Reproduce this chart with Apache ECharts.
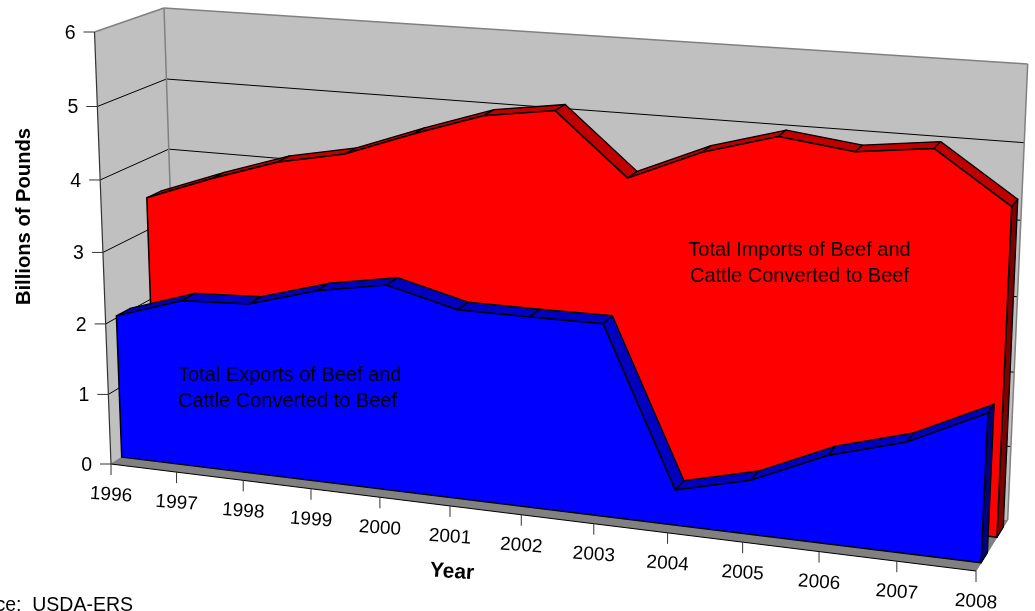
<!DOCTYPE html>
<html><head><meta charset="utf-8">
<style>html,body{margin:0;padding:0;background:#fff}#c{width:1035px;height:611px}</style>
<script src="https://cdn.jsdelivr.net/npm/echarts@6/dist/echarts.min.js"></script>
</head><body><div id="c"></div>
<script>
const years = ['1996','1997','1998','1999','2000','2001','2002','2003','2004','2005','2006','2007','2008'];
const valueTicks = [0,1,2,3,4,5,6];
const totalImports = [3.46,3.81,4.12,4.31,4.66,4.98,5.12,4.30,4.72,5.00,4.88,5.00,4.34];
const totalExports = [2.03,2.34,2.39,2.67,2.84,2.60,2.60,2.61,0.48,0.73,1.18,1.47,1.96];
const xAxisName = 'Year';
const yAxisName = 'Billions of Pounds';
const sourceNote = 'Source:  USDA-ERS';
const importsNote = ['Total Imports of Beef and','Cattle Converted to Beef'];
const exportsNote = ['Total Exports of Beef and','Cattle Converted to Beef'];

const FONT = '"Liberation Sans", Arial, sans-serif';
const GRID = {left:100, top:50, width:800, height:400};
function homography(q){
  const [x0,y0]=q[0],[x1,y1]=q[1],[x2,y2]=q[2],[x3,y3]=q[3];
  const dx1=x1-x2,dx2=x3-x2,sx=x0-x1+x2-x3,dy1=y1-y2,dy2=y3-y2,sy=y0-y1+y2-y3;
  const det=dx1*dy2-dx2*dy1, g=(sx*dy2-dx2*sy)/det, h=(dx1*sy-sx*dy1)/det;
  const a=x1-x0+g*x1,b=x3-x0+h*x3,d=y1-y0+g*y1,e=y3-y0+h*y3;
  return (u,v)=>{const w=g*u+h*v+1;return [(a*u+b*v+x0)/w,(d*u+e*v+y0)/w];};
}
// view of the box: bottom-left, bottom-right, top-right, top-left of front and back planes
const frontPlane = homography([[111,464],[976,571],[998,95],[94.5,32]]);
const backPlane  = homography([[178,421],[1007.7,520],[1027.7,64],[164,8]]);
function project(pt, depth){
  const u=(pt[0]-GRID.left)/GRID.width, v=(GRID.top+GRID.height-pt[1])/GRID.height;
  const f=frontPlane(u,v), b=backPlane(u,v);
  return [f[0]+(b[0]-f[0])*depth, f[1]+(b[1]-f[1])*depth];
}
const poly=(points,fill,stroke,lw)=>({type:'polygon',shape:{points},style:{fill,stroke:stroke||'none',lineWidth:lw||0,lineJoin:'round'}});
const line=(a,b,stroke,lw)=>({type:'line',shape:{x1:a[0],y1:a[1],x2:b[0],y2:b[1]},style:{stroke,lineWidth:lw||1}});
const text=(x,y,t,o)=>({type:'text',x,y,rotation:o.rotation||0,style:{text:t,fill:'#000',font:(o.size||19)+'px '+FONT,align:o.align||'center',verticalAlign:'middle'}});

function renderBox(params,api){
  if(params.dataIndex!==0) return null;
  const n=years.length-1, top=valueTicks[valueTicks.length-1], ch=[];
  const P=(i,val,d)=>project(api.coord([i,val]),d);
  ch.push(poly([P(0,0,0),P(0,top,0),P(0,top,1),P(0,0,1)],'#C0C0C0'));
  ch.push(poly([P(0,0,1),P(0,top,1),P(n,top,1),P(n,0,1)],'#C0C0C0'));
  ch.push(poly([P(0,0,0),P(n,0,0),P(n,0,1),P(0,0,1)],'#808080'));
  valueTicks.forEach(t=>{
    if(t>0 && t<top){
      ch.push(line(P(0,t,0),P(0,t,1),'#000',1));
      ch.push(line(P(0,t,1),P(n,t,1),'#000',1));
    }
    const a=P(0,t,0);
    ch.push(line([a[0]-11,a[1]],a,'#333',1));
    ch.push(text(a[0]-19,a[1]+1.5,String(t),{align:'right',size:19.5}));
  });
  ch.push(line(P(0,top,0),P(0,top,1),'#808080',1.5));
  ch.push(line(P(0,top,1),P(n,top,1),'#808080',1.5));
  ch.push(line(P(n,top,1),P(n,0,1),'#808080',1.5));
  ch.push(line(P(0,0,1),P(0,top,1),'#808080',1.5));
  ch.push(line(P(0,0,0),P(0,top,0),'#333',1.2));
  ch.push(line(P(0,0,0),P(0,0,1),'#808080',1));
  ch.push(line(P(n,0,0),P(n,0,1),'#808080',1));
  ch.push(line(P(0,0,0),P(n,0,0),'#000',1.2));
  years.forEach((y,i)=>{
    const a=P(i,0,0);
    ch.push(line(a,[a[0],a[1]+11],'#333',1));
    ch.push(text(a[0],a[1]+31,y,{rotation:-0.07}));
  });
  return {type:'group',children:ch};
}
function areaRenderer(values,d0,d1,cFront,cTop,cSide){
  return function(params,api){
    if(params.dataIndex!==values.length-1) return null;
    const n=values.length-1, ch=[];
    const P=(i,val,d)=>project(api.coord([i,val]),d);
    for(let i=0;i<n;i++){
      ch.push(poly([P(i,values[i],d0),P(i+1,values[i+1],d0),P(i+1,values[i+1],d1),P(i,values[i],d1)],cTop,'#000',1.3));
    }
    ch.push(poly([P(n,0,d0),P(n,values[n],d0),P(n,values[n],d1),P(n,0,d1)],cSide,'#000',1.3));
    const front=[P(0,0,d0)];
    values.forEach((v,i)=>front.push(P(i,v,d0)));
    front.push(P(n,0,d0));
    ch.push(poly(front,cFront,'#000',1.5));
    return {type:'group',children:ch};
  };
}
const row=vals=>years.map((y,i)=>[y,vals[i]]);
const chart=echarts.init(document.getElementById('c'));
const noteText=(x,y,lines,align)=>lines.map((t,i)=>({type:'text',x,y:y+i*26.5,z:100,style:{text:t,fill:'#000',font:'20px '+FONT,align,verticalAlign:'middle'}}));
chart.setOption({
  animation:false,
  backgroundColor:'#fff',
  grid:Object.assign({},GRID),
  xAxis:{type:'category',data:years,boundaryGap:false,show:false},
  yAxis:{type:'value',min:0,max:6,interval:1,show:false},
  series:[
    {type:'custom',name:'Axes',renderItem:renderBox,data:row(totalExports),z:1},
    {type:'custom',name:'Total Imports',renderItem:areaRenderer(totalImports,0.66,0.86,'#FF0000','#C00000','#800000'),data:row(totalImports),z:2},
    {type:'custom',name:'Total Exports',renderItem:areaRenderer(totalExports,0.16,0.36,'#0000FF','#0000C0','#000080'),data:row(totalExports),z:3}
  ],
  graphic:[
    ...noteText(799.5,250,importsNote,'center'),
    ...noteText(178,375,exportsNote,'left'),
    {type:'text',x:24,y:216.5,rotation:Math.PI/2,z:100,style:{text:yAxisName,fill:'#000',font:'bold 20.2px '+FONT,align:'center',verticalAlign:'middle'}},
    {type:'text',x:452,y:572,rotation:-0.07,z:100,style:{text:xAxisName,fill:'#000',font:'bold 21px '+FONT,align:'center',verticalAlign:'middle'}},
    {type:'text',x:133,y:606,z:100,style:{text:sourceNote,fill:'#000',font:'19.5px '+FONT,align:'right',verticalAlign:'middle'}}
  ]
});
</script></body></html>
